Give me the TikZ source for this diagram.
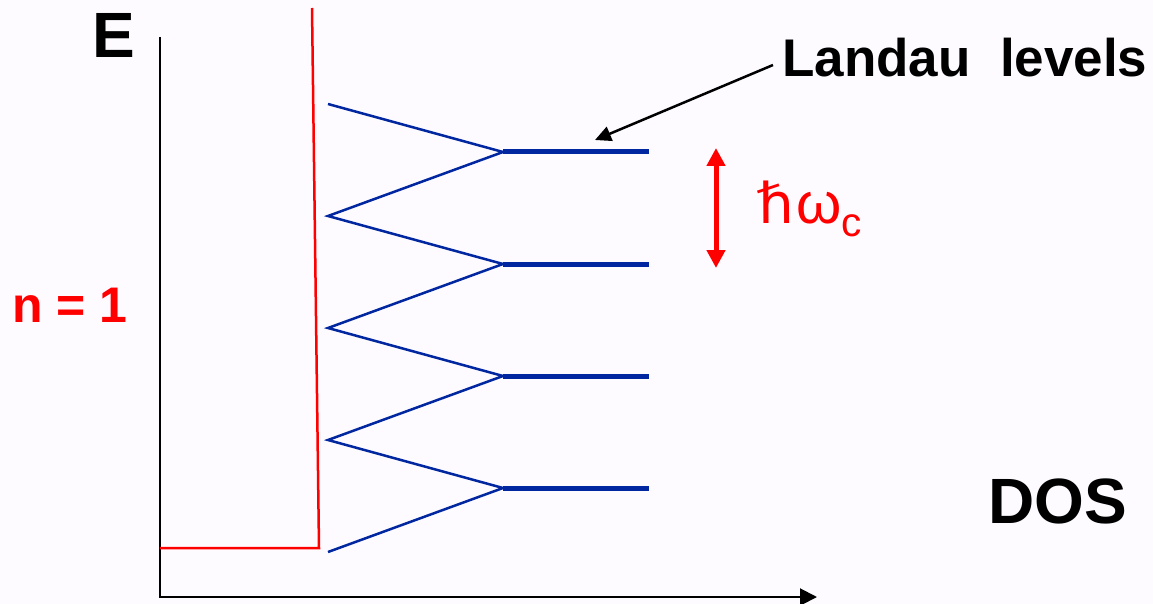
\documentclass[tikz,border=0pt]{standalone}
\usepackage{fontspec}
\setmainfont{Liberation Sans}
\newfontfamily\dejavuup[FakeSlant=-0.2]{DejaVu Sans}
\usetikzlibrary{arrows.meta}
\definecolor{bg}{RGB}{253,251,255}
\definecolor{lvblue}{RGB}{0,38,160}
\definecolor{pred}{RGB}{255,0,0}
\tikzset{
  axisline/.style={line width=2pt, black},
  wallline/.style={line width=2.5pt, pred},
  fanline/.style={line width=2.5pt, lvblue},
  levelline/.style={line width=5pt, lvblue},
  lbl/.style={inner sep=0pt, anchor=base west},
}
\begin{document}
\begin{tikzpicture}[x=1pt,y=-1pt]
\fill[bg] (0,0) rectangle (1153,604);
\useasboundingbox (0,0) rectangle (1153,604);
% axes
\coordinate (top) at (160,37);
\coordinate (origin) at (160,597);
\coordinate (xend) at (817,597);
\draw[axisline, -{Triangle[length=17pt,width=17pt]}] (top) -- (origin) -- (xend);
% red potential wall
\coordinate (w1) at (160,548);
\coordinate (w2) at (319,548);
\coordinate (w3) at (312,8);
\draw[wallline] (w1) -- (w2) -- (w3);
% fan
\coordinate (f0) at (328,104);
\coordinate (L1) at (503,152);
\coordinate (f1) at (328,216);
\coordinate (L2) at (503,264);
\coordinate (f2) at (328,328);
\coordinate (L3) at (503,376);
\coordinate (f3) at (328,440);
\coordinate (L4) at (503,488);
\coordinate (f4) at (328,552);
\draw[fanline, line join=miter] (f0) -- (L1) -- (f1) -- (L2) -- (f2) -- (L3) -- (f3) -- (L4) -- (f4);
\coordinate (R1) at (649,152);
\coordinate (R2) at (649,264);
\coordinate (R3) at (649,376);
\coordinate (R4) at (649,488);
\draw[levelline] (L1) -- (R1);
\draw[levelline] (L2) -- (R2);
\draw[levelline] (L3) -- (R3);
\draw[levelline] (L4) -- (R4);
% labels
\node[lbl, font=\bfseries\fontsize{64}{64}\selectfont] (E) at (92,58) {E};
\node[lbl, font=\bfseries\fontsize{64}{64}\selectfont] (dos) at (988,523) {DOS};
\node[lbl, font=\bfseries\fontsize{50}{50}\selectfont, text=pred] (n1) at (12,322) {n = 1};
\node[lbl, font=\bfseries\fontsize{53}{53}\selectfont] (landau) at (782,77) {Landau\ \ levels};
\node[lbl, font=\fontsize{58}{58}\selectfont, text=pred] (hw) at (761,223) {{\dejavuup\fontsize{56}{56}\selectfont ℏ}ω\textsubscript{c}};
% Landau arrow
\coordinate (lstart) at (773,65);
\coordinate (ltip) at (595,140);
\draw[line width=2.5pt, -{Triangle[length=16pt,width=15pt]}] (lstart) -- (ltip);
% hbar omega double arrow
\coordinate (a1) at (716,148);
\coordinate (a2) at (716,268);
\draw[line width=5pt, pred, {Triangle[length=18pt,width=18pt]}-{Triangle[length=18pt,width=18pt]}] (a1) -- (a2);
\end{tikzpicture}
\end{document}
